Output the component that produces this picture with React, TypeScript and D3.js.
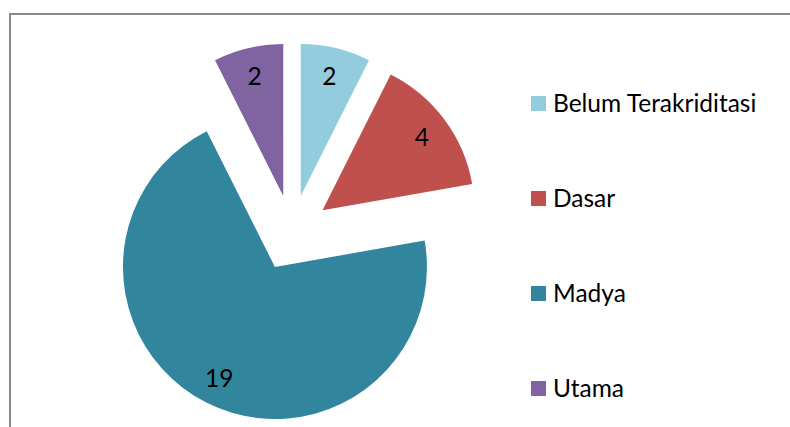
import React from "react";
import * as d3 from "d3";

const categories = ["Belum Terakriditasi", "Dasar", "Madya", "Utama"];
const values = [2, 4, 19, 2];
const colors = ["#93CDDD", "#C0504D", "#31859C", "#8064A2"];

const W = 790;
const H = 427;

const App = () => {
  const ref = React.useRef<SVGSVGElement>(null);

  React.useEffect(() => {
    const svg = d3.select(ref.current);
    svg.selectAll("*").remove();

    const font = "Lato, 'Noto Sans', sans-serif";
    const cx = 292,
      cy = 233,
      r = 152,
      explode = 0.25 * r,
      labelR = 124;

    // chart area border (runs past right and bottom edge)
    svg.append("rect")
      .attr("x", 10)
      .attr("y", 14)
      .attr("width", W + 20)
      .attr("height", H + 20)
      .attr("fill", "none")
      .attr("stroke", "#888")
      .attr("stroke-width", 2);

    const pie = d3.pie<number>().sort(null).value((d) => d);
    const arcs = pie(values);
    const arc = d3.arc<d3.PieArcDatum<number>>().innerRadius(0).outerRadius(r);

    const g = svg.append("g").attr("transform", `translate(${cx},${cy})`);

    const slice = g.selectAll("g.slice")
      .data(arcs)
      .join("g")
      .attr("class", "slice")
      .attr("transform", (d) => {
        const mid = (d.startAngle + d.endAngle) / 2;
        return `translate(${explode * Math.sin(mid)},${-explode * Math.cos(mid)})`;
      });

    slice.append("path")
      .attr("d", arc)
      .attr("fill", (d, i) => colors[i]);

    slice.append("text")
      .attr("x", (d) => labelR * Math.sin((d.startAngle + d.endAngle) / 2))
      .attr("y", (d) => -labelR * Math.cos((d.startAngle + d.endAngle) / 2))
      .attr("text-anchor", "middle")
      .attr("dominant-baseline", "central")
      .attr("font-family", font)
      .attr("font-size", 24.5)
      .attr("fill", "#000")
      .text((d) => d.data);

    // legend
    const legendY = d3.scalePoint<string>()
      .domain(categories)
      .range([103.5, 388.5]);

    const item = svg.append("g")
      .selectAll("g")
      .data(categories)
      .join("g")
      .attr("transform", (d) => `translate(531,${legendY(d)})`);

    item.append("rect")
      .attr("x", 0)
      .attr("y", -7.5)
      .attr("width", 15)
      .attr("height", 15)
      .attr("fill", (d, i) => colors[i]);

    item.append("text")
      .attr("x", 22)
      .attr("y", 8.5)
      .attr("font-family", font)
      .attr("font-size", 24.5)
      .attr("fill", "#000")
      .text((d) => d);
  }, []);

  return (
    <svg
      ref={ref}
      width={W}
      height={H}
      style={{ position: "absolute", left: 0, top: 0, background: "#fff" }}
    ></svg>
  );
};

export default App;
